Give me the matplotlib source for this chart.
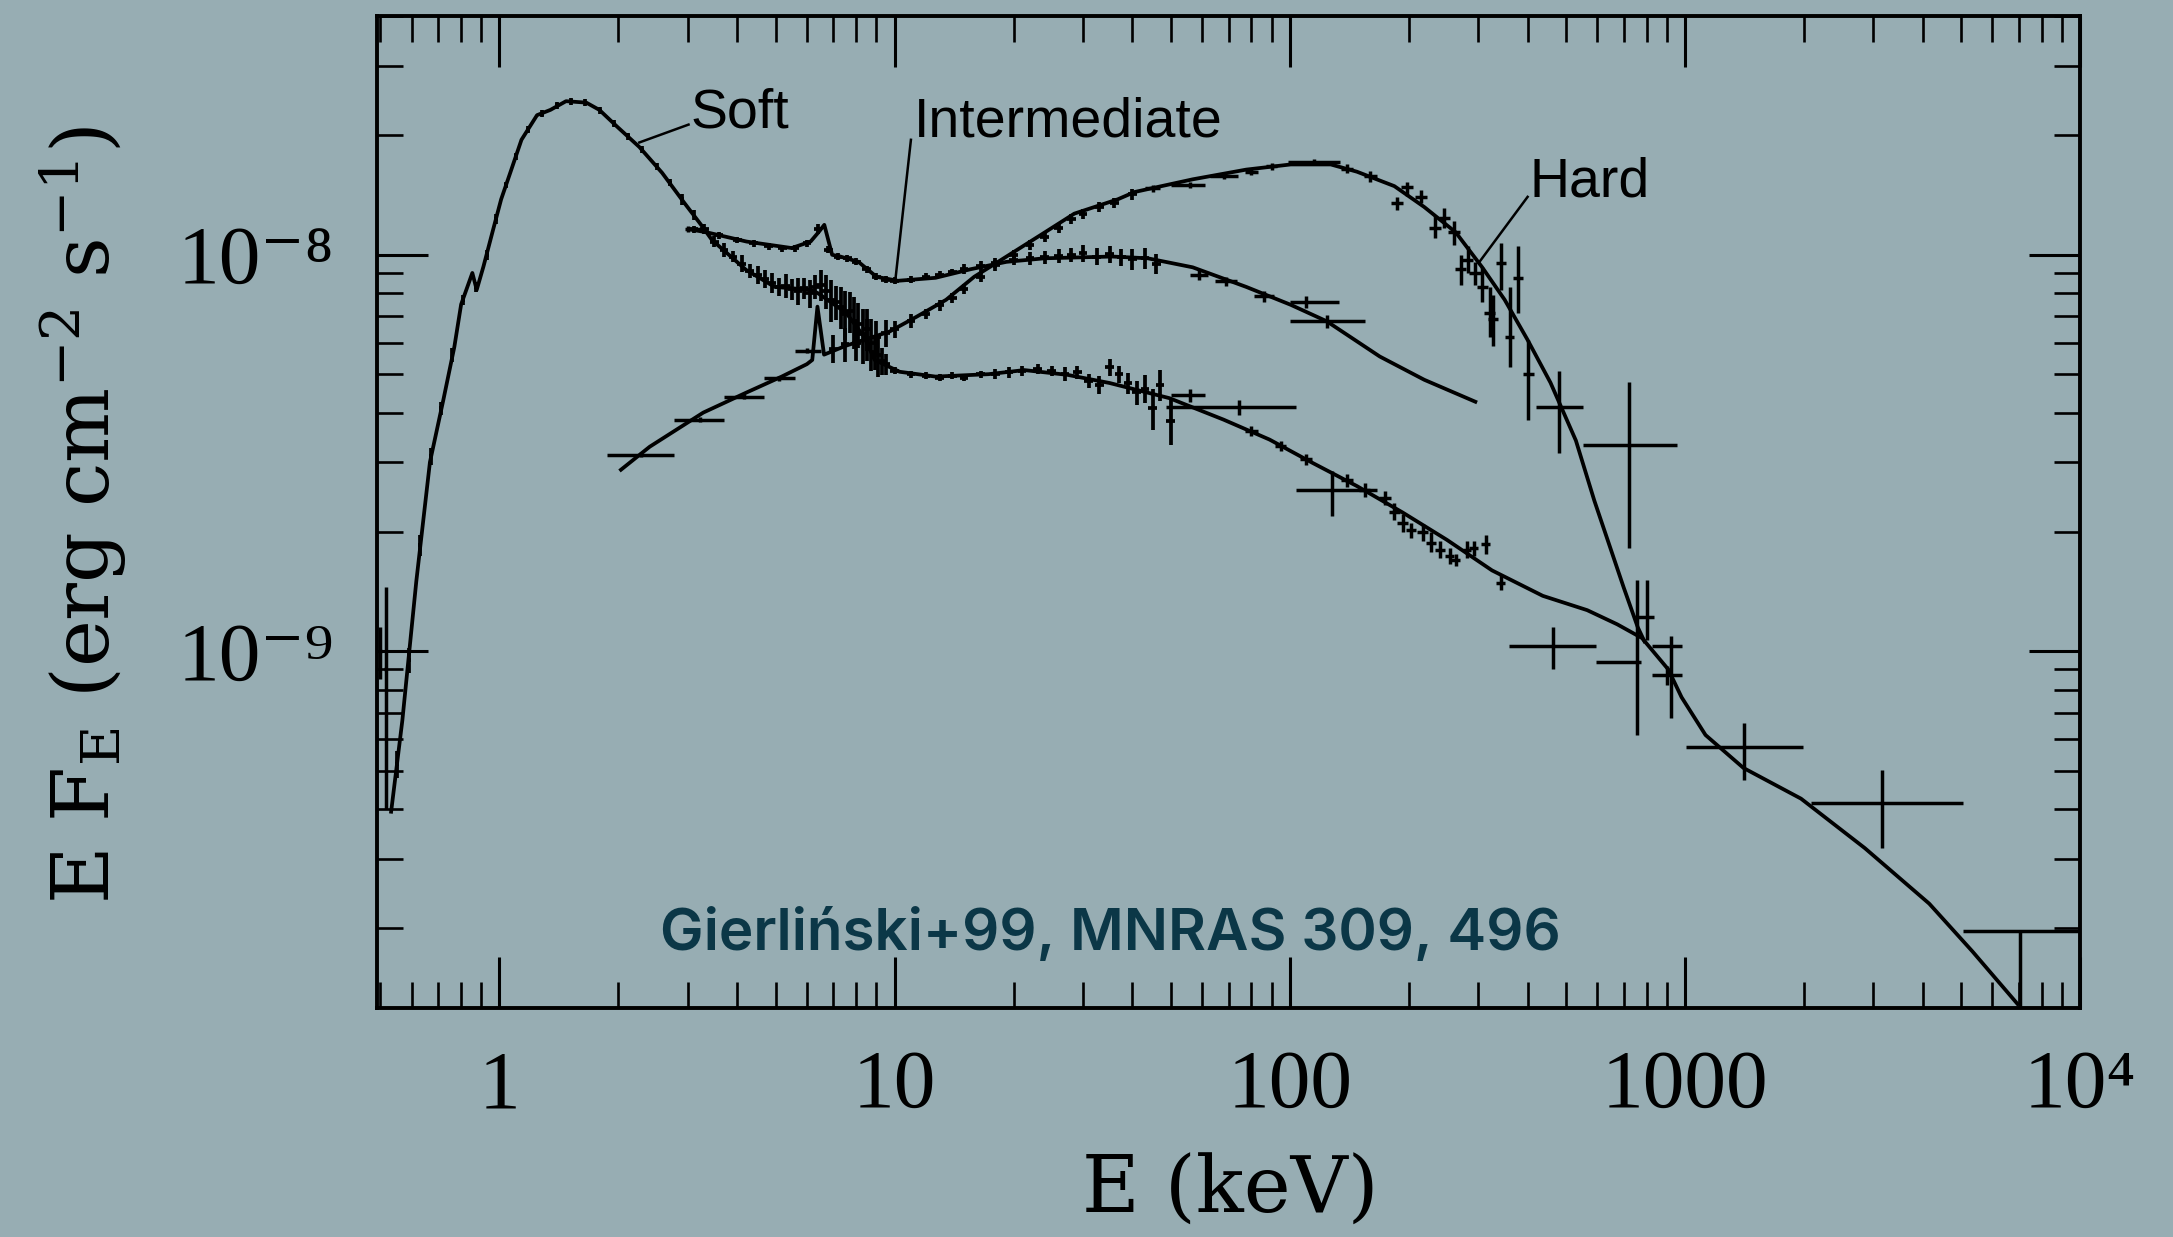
import numpy as np
import matplotlib.pyplot as plt
from matplotlib.ticker import FixedLocator, FixedFormatter, NullFormatter

plt.rcParams['mathtext.fontset'] = 'dejavuserif'

BG = '#97adb3'
INK = 'black'

# ---- model curves: E (keV), E F_E in units of 1e-9 erg cm^-2 s^-1 ----
soft_model_e = [0.532, 0.568, 0.616, 0.667, 0.721, 0.769, 0.80, 0.854, 0.876, 0.911,
                0.96, 1.01, 1.065, 1.137, 1.245, 1.346, 1.474, 1.659, 1.79, 1.99,
                2.26, 2.58, 2.94, 3.26, 3.45, 4.21, 4.97, 6.13, 6.4, 7.54,
                8.37, 8.9, 10.3, 12.7, 17.3, 21.3, 27.4, 35.0, 49.6, 68.0,
                88.9, 114, 148, 193, 250, 325, 437, 566, 674, 779,
                908, 981, 1128, 1407, 1968, 2853, 4154, 5344, 6949]
soft_model_f = [0.394, 0.67, 1.5, 3.0, 4.3, 5.86, 7.5, 9.0, 8.16, 9.34,
                11.4, 13.8, 16.1, 19.5, 22.5, 23.2, 24.4, 24.2, 23.2, 21.0,
                18.7, 16.1, 13.5, 11.8, 10.9, 9.16, 8.3, 8.16, 8.0, 7.14,
                6.22, 5.43, 5.07, 4.93, 5.0, 5.12, 4.98, 4.75, 4.35, 3.84,
                3.42, 2.99, 2.61, 2.24, 1.91, 1.6, 1.38, 1.27, 1.17, 1.08,
                0.90, 0.766, 0.615, 0.508, 0.425, 0.319, 0.231, 0.175, 0.129]

inter_model_e = [3.02, 3.34, 4.22, 5.49, 6.13, 6.42, 6.64, 6.95, 7.29, 8.1,
                 9.0, 10.2, 12.7, 15.6, 19.2, 24.0, 35.5, 43.7, 56.8, 77.6,
                 100.6, 124, 169, 219, 295]
inter_model_f = [11.6, 11.4, 10.8, 10.4, 10.8, 11.4, 11.9, 10.0, 9.9, 9.6,
                 8.8, 8.6, 8.75, 9.2, 9.6, 9.8, 9.9, 9.8, 9.3, 8.3,
                 7.48, 6.8, 5.54, 4.84, 4.26]

hard_model_e = [2.03, 2.4, 3.28, 4.21, 5.18, 6.0, 6.19, 6.38, 6.63, 7.54,
                9.7, 11.4, 13.5, 15.9, 19.2, 23.7, 28.5, 36.7, 40.5, 56.8,
                77.6, 100.6, 127, 148, 184, 219, 263, 307, 350, 400,
                457, 530, 590, 700, 760, 790]
hard_model_f = [2.87, 3.28, 4.0, 4.49, 4.93, 5.3, 5.43, 7.4, 5.6, 5.9,
                6.4, 6.99, 7.7, 8.8, 9.9, 11.3, 12.7, 13.8, 14.4, 15.5,
                16.4, 16.9, 16.9, 16.2, 14.9, 13.2, 11.4, 9.3, 7.7, 6.1,
                4.76, 3.4, 2.4, 1.45, 1.15, 1.06]

# ---- soft state data ----
soft_lo_e = [0.55, 0.59, 0.63, 0.67, 0.71, 0.76, 0.81, 0.87, 0.93, 0.98,
             1.04, 1.10, 1.18, 1.28, 1.40, 1.52, 1.65, 1.80, 1.95, 2.12,
             2.30, 2.50, 2.70, 2.90, 3.10]
soft_lo_f = [0.52, 0.95, 1.85, 3.1, 4.1, 5.6, 7.7, 8.3, 10.0, 12.3,
             15.0, 17.7, 20.7, 22.7, 23.8, 24.4, 24.2, 23.1, 21.4, 19.9,
             18.4, 16.7, 15.2, 13.8, 12.6]
soft_lo_err = [0.08, 0.07, 0.06, 0.05, 0.04, 0.04, 0.03, 0.03, 0.03, 0.03,
               0.02, 0.02, 0.02, 0.02, 0.02, 0.02, 0.02, 0.02, 0.02, 0.02,
               0.02, 0.02, 0.02, 0.03, 0.03]

soft_edge_e = [0.50, 0.515]
soft_edge_f = [1.0, 0.9]
soft_edge_flo = [0.85, 0.40]
soft_edge_fhi = [1.15, 1.45]

soft_pca_e = [3.3, 3.5, 3.7, 3.9, 4.1, 4.3, 4.5, 4.7, 4.9, 5.1,
              5.3, 5.5, 5.7, 5.9, 6.1, 6.3, 6.5, 6.7, 6.9, 7.1,
              7.3, 7.5, 7.7, 7.9, 8.1, 8.3, 8.5, 8.7, 8.9, 9.1,
              9.3, 9.5, 10, 11, 12, 13, 14, 15, 16.5, 18,
              19.5, 21, 23, 25, 27, 29, 31, 33, 35, 37,
              39, 41, 43, 45, 47, 50]
soft_pca_f = [11.6, 10.8, 10.3, 9.9, 9.5, 9.1, 8.9, 8.7, 8.5, 8.3,
              8.35, 8.2, 8.1, 8.25, 8.0, 8.3, 8.4, 8.1, 7.7, 7.6,
              7.4, 7.1, 7.2, 6.8, 6.7, 6.3, 6.5, 6.0, 5.7, 5.6,
              5.4, 5.3, 5.1, 5.0, 4.95, 4.9, 4.95, 4.9, 5.0, 5.0,
              5.05, 5.1, 5.15, 5.1, 5.0, 5.05, 4.8, 4.7, 5.2, 5.0,
              4.75, 4.5, 4.6, 4.1, 4.7, 3.8]
soft_pca_err = [0.03, 0.03, 0.04, 0.03, 0.05, 0.04, 0.05, 0.05, 0.06, 0.05,
                0.07, 0.06, 0.08, 0.06, 0.08, 0.07, 0.09, 0.10, 0.12, 0.10,
                0.12, 0.14, 0.12, 0.15, 0.13, 0.16, 0.12, 0.15, 0.10, 0.12,
                0.08, 0.06, 0.02, 0.02, 0.02, 0.02, 0.02, 0.02, 0.02, 0.03,
                0.03, 0.03, 0.03, 0.03, 0.04, 0.04, 0.04, 0.05, 0.05, 0.05,
                0.06, 0.07, 0.08, 0.12, 0.09, 0.13]

soft_pts_e = [56, 74.5, 80, 95, 110, 128, 140, 155, 174, 184,
              193, 203, 217, 228, 240, 254, 263, 281, 292, 313,
              342, 465, 757, 900, 1413, 3158, 7050]
soft_pts_elo = [50, 48.6, 77, 92, 106, 104, 135, 150, 168, 178,
                187, 197, 210, 221, 233, 247, 256, 274, 285, 305,
                333, 359, 596, 826, 1004, 2085, 5060]
soft_pts_ehi = [61, 104, 83, 98, 114, 166, 145, 160, 180, 190,
                199, 209, 224, 235, 247, 261, 270, 288, 299, 321,
                351, 596, 776, 983, 1993, 5060, 10000]
soft_pts_f = [4.43, 4.14, 3.6, 3.3, 3.05, 2.55, 2.7, 2.55, 2.44, 2.25,
              2.11, 2.02, 2.0, 1.88, 1.80, 1.74, 1.70, 1.80, 1.82, 1.86,
              1.49, 1.03, 0.94, 0.87, 0.575, 0.415, 0.197]
soft_pts_flo = [4.25, 3.95, 3.5, 3.2, 2.95, 2.2, 2.6, 2.45, 2.34, 2.14,
                2.0, 1.93, 1.9, 1.78, 1.72, 1.66, 1.64, 1.72, 1.74, 1.76,
                1.43, 0.904, 0.615, 0.82, 0.475, 0.319, 0.10]
soft_pts_fhi = [4.6, 4.3, 3.7, 3.4, 3.15, 2.85, 2.8, 2.65, 2.54, 2.36,
                2.22, 2.11, 2.1, 2.0, 1.9, 1.82, 1.76, 1.9, 1.9, 1.97,
                1.56, 1.15, 1.51, 0.92, 0.66, 0.502, 0.197]

# ---- intermediate state data ----
inter_pca_e = [3.1, 3.6, 4.0, 4.4, 4.8, 5.2, 5.6, 6.0, 6.4, 6.8,
               7.2, 7.6, 8.0, 8.5, 9.0, 9.5, 10, 11, 12, 13,
               14, 15, 16.5, 18, 20, 22, 24, 26, 28, 30,
               32.5, 35, 37.5, 40, 43, 46]
inter_pca_f = [11.6, 11.2, 10.9, 10.7, 10.5, 10.4, 10.4, 10.7, 11.6, 10.3,
               9.9, 9.8, 9.6, 9.2, 8.8, 8.65, 8.6, 8.65, 8.8, 8.9,
               9.05, 9.2, 9.35, 9.55, 9.7, 9.8, 9.85, 9.95, 10.0, 10.1,
               9.9, 10.05, 9.85, 9.75, 9.8, 9.5]
inter_pca_err = [0.02, 0.02, 0.02, 0.02, 0.02, 0.02, 0.02, 0.02, 0.03, 0.02,
                 0.02, 0.02, 0.02, 0.02, 0.02, 0.02, 0.02, 0.02, 0.02, 0.02,
                 0.02, 0.03, 0.03, 0.03, 0.03, 0.04, 0.04, 0.04, 0.04, 0.05,
                 0.05, 0.05, 0.05, 0.06, 0.06, 0.06]

inter_pts_e = [3.0, 59, 69, 86, 110, 124]
inter_pts_elo = [2.95, 56, 64.6, 81, 100, 100]
inter_pts_ehi = [3.35, 62, 73.6, 91, 133, 155]
inter_pts_f = [11.6, 8.9, 8.57, 7.85, 7.6, 6.8]
inter_pts_flo = [11.4, 8.65, 8.35, 7.6, 7.35, 6.55]
inter_pts_fhi = [11.8, 9.15, 8.8, 8.1, 7.85, 7.05]

# ---- hard state data ----
hard_lo_e = [2.28, 3.21, 4.17, 5.1, 6.0]
hard_lo_elo = [1.87, 2.77, 3.71, 4.67, 5.6]
hard_lo_ehi = [2.77, 3.71, 4.67, 5.6, 6.5]
hard_lo_f = [3.13, 3.84, 4.39, 4.88, 5.73]

hard_pca_e = [7.0, 7.5, 8.0, 8.5, 9.0, 9.5, 10, 11, 12, 13,
              14, 15, 16.5, 18, 20, 22, 24, 26, 28, 30,
              33, 36, 40]
hard_pca_f = [5.8, 5.95, 6.0, 6.15, 6.2, 6.35, 6.5, 6.8, 7.1, 7.45,
              7.8, 8.2, 8.8, 9.4, 10.0, 10.6, 11.1, 11.7, 12.3, 12.7,
              13.2, 13.5, 14.2]
hard_pca_err = [0.08, 0.10, 0.10, 0.12, 0.10, 0.08, 0.05, 0.04, 0.03, 0.03,
                0.03, 0.03, 0.03, 0.03, 0.03, 0.03, 0.03, 0.03, 0.03, 0.03,
                0.03, 0.03, 0.03]

hard_pts_e = [45, 56, 68, 80, 90, 115, 140, 160, 187, 198,
              215, 233, 246, 260, 271, 282, 295, 307, 321, 327,
              342, 360, 379, 402, 480, 724, 800, 920]
hard_pts_elo = [43, 50, 63, 77, 87, 99, 135, 154, 180, 191,
                207, 225, 238, 251, 262, 273, 285, 297, 311, 317,
                332, 350, 368, 390, 419, 553, 745, 826]
hard_pts_ehi = [47, 61, 74, 83, 93, 134, 145, 166, 194, 205,
                223, 241, 254, 269, 280, 291, 305, 317, 331, 337,
                352, 370, 390, 415, 553, 954, 836, 983]
hard_pts_f = [14.7, 15.0, 15.8, 16.2, 16.7, 17.1, 16.5, 15.8, 13.5, 14.8,
              14.0, 11.7, 12.4, 11.4, 9.2, 9.7, 9.0, 8.3, 7.15, 6.9,
              9.55, 6.2, 8.75, 5.0, 4.14, 3.32, 1.22, 1.03]
hard_pts_flo = [14.4, 14.7, 15.5, 15.9, 16.4, 16.8, 16.1, 15.3, 13.0, 14.1,
                13.5, 11.0, 11.7, 10.6, 8.4, 9.0, 8.4, 7.6, 6.2, 5.9,
                8.16, 5.2, 7.14, 3.83, 3.16, 1.82, 1.07, 0.68]
hard_pts_fhi = [15.0, 15.3, 16.1, 16.5, 17.0, 17.4, 16.9, 16.3, 14.0, 15.3,
                14.6, 12.5, 13.1, 12.2, 10.0, 10.5, 9.6, 9.3, 8.3, 7.9,
                10.7, 8.3, 10.5, 6.1, 5.1, 4.79, 1.51, 1.09]

x_major = [1, 10, 100, 1000, 1e4]
x_major_labels = ['1', '10', '100', '1000', '10\u2074']
y_major = [1e-9, 1e-8]
y_major_labels = ['10\u207b\u2079', '10\u207b\u2078']

TICK_FONT = ['Liberation Serif', 'DejaVu Serif']


def draw_band(ax, e, f, frac, xfrac=0.025):
    e = np.asarray(e)
    f = np.asarray(f) * 1e-9
    ax.errorbar(e, f, xerr=e * xfrac, yerr=f * np.asarray(frac), fmt='none',
                ecolor=INK, elinewidth=2.7, capsize=0)


def draw_points(ax, e, elo, ehi, f, flo, fhi):
    e = np.asarray(e, float)
    f = np.asarray(f) * 1e-9
    xerr = [e - np.asarray(elo), np.asarray(ehi) - e]
    yerr = [f - np.asarray(flo) * 1e-9, np.asarray(fhi) * 1e-9 - f]
    ax.errorbar(e, f, xerr=xerr, yerr=yerr, fmt='none', ecolor=INK,
                elinewidth=2.5, capsize=0)


fig = plt.figure(figsize=(21.73, 12.37), dpi=100, facecolor=BG)
ax = fig.add_axes([0.1735, 0.1851, 0.7837, 0.8019])
ax.set_facecolor(BG)
ax.set_xscale('log')
ax.set_yscale('log')

# model curves
for me, mf in [(soft_model_e, soft_model_f), (inter_model_e, inter_model_f),
               (hard_model_e, hard_model_f)]:
    ax.plot(me, np.asarray(mf) * 1e-9, color=INK, lw=2.7, solid_joinstyle='round')

# data
draw_band(ax, soft_lo_e, soft_lo_f, soft_lo_err, xfrac=0.01)
draw_points(ax, soft_edge_e, [0.495, 0.51], [0.505, 0.52], soft_edge_f,
            soft_edge_flo, soft_edge_fhi)
draw_band(ax, soft_pca_e, soft_pca_f, soft_pca_err)
draw_points(ax, soft_pts_e, soft_pts_elo, soft_pts_ehi, soft_pts_f,
            soft_pts_flo, soft_pts_fhi)
draw_band(ax, inter_pca_e, inter_pca_f, inter_pca_err)
draw_points(ax, inter_pts_e, inter_pts_elo, inter_pts_ehi, inter_pts_f,
            inter_pts_flo, inter_pts_fhi)
draw_points(ax, hard_lo_e, hard_lo_elo, hard_lo_ehi, hard_lo_f,
            np.asarray(hard_lo_f) * 0.985, np.asarray(hard_lo_f) * 1.015)
draw_band(ax, hard_pca_e, hard_pca_f, hard_pca_err)
draw_points(ax, hard_pts_e, hard_pts_elo, hard_pts_ehi, hard_pts_f,
            hard_pts_flo, hard_pts_fhi)

ax.set_xlim(0.49, 1e4)
ax.set_ylim(1.26e-10, 4.0e-8)

# ticks
ax.xaxis.set_major_locator(FixedLocator(x_major))
ax.xaxis.set_major_formatter(FixedFormatter(x_major_labels))
ax.xaxis.set_minor_locator(FixedLocator(
    [m * 10.0 ** d for d in range(-1, 4) for m in range(2, 10)]))
ax.xaxis.set_minor_formatter(NullFormatter())
ax.yaxis.set_major_locator(FixedLocator(y_major))
ax.yaxis.set_major_formatter(FixedFormatter(y_major_labels))
ax.yaxis.set_minor_locator(FixedLocator(
    [m * 10.0 ** d for d in range(-10, -7) for m in range(2, 10)]))
ax.yaxis.set_minor_formatter(NullFormatter())

ax.tick_params(which='both', direction='in', top=True, right=True, colors=INK)
ax.tick_params(which='major', length=37, width=2.2, labelsize=60)
ax.tick_params(which='minor', length=18.5, width=1.9)
ax.tick_params(axis='x', which='major', pad=30)
ax.tick_params(axis='y', which='major', pad=31)
for lab in ax.get_xticklabels() + ax.get_yticklabels():
    lab.set_family(TICK_FONT)
for sp in ax.spines.values():
    sp.set_linewidth(2.8)
    sp.set_color(INK)

ax.set_xlabel('E (keV)', family='DejaVu Serif', fontsize=57)
ax.set_ylabel(r'E F$_{\rm E}$ (erg cm$^{-2}$ s$^{-1}$)', family='DejaVu Serif',
              fontsize=57)
ax.xaxis.set_label_coords(0.501, -0.146)
ax.yaxis.set_label_coords(-0.146, 0.497)

# state labels with leader lines
label_font = dict(family='Liberation Sans', fontsize=40, color=INK)
ax.text(3.04, 2.09e-8, 'Soft', ha='left', va='baseline', **label_font)
ax.plot([2.26, 3.01], [1.92e-8, 2.13e-8], color=INK, lw=1.8)
ax.text(11.2, 1.99e-8, 'Intermediate', ha='left', va='baseline', **label_font)
ax.plot([11.0, 10.06], [1.95e-8, 8.75e-9], color=INK, lw=1.8)
ax.text(405, 1.40e-8, 'Hard', ha='left', va='baseline', **label_font)
ax.plot([400, 301], [1.40e-8, 9.55e-9], color=INK, lw=1.8)

fig.text(660 / 2173, 1 - 950 / 1237, 'Gierliński+99, MNRAS 309, 496',
         family='Inter', fontweight='semibold', fontsize=42, color='#0b3747',
         ha='left', va='baseline')

fig.savefig('out.png', dpi=100, facecolor=BG)
